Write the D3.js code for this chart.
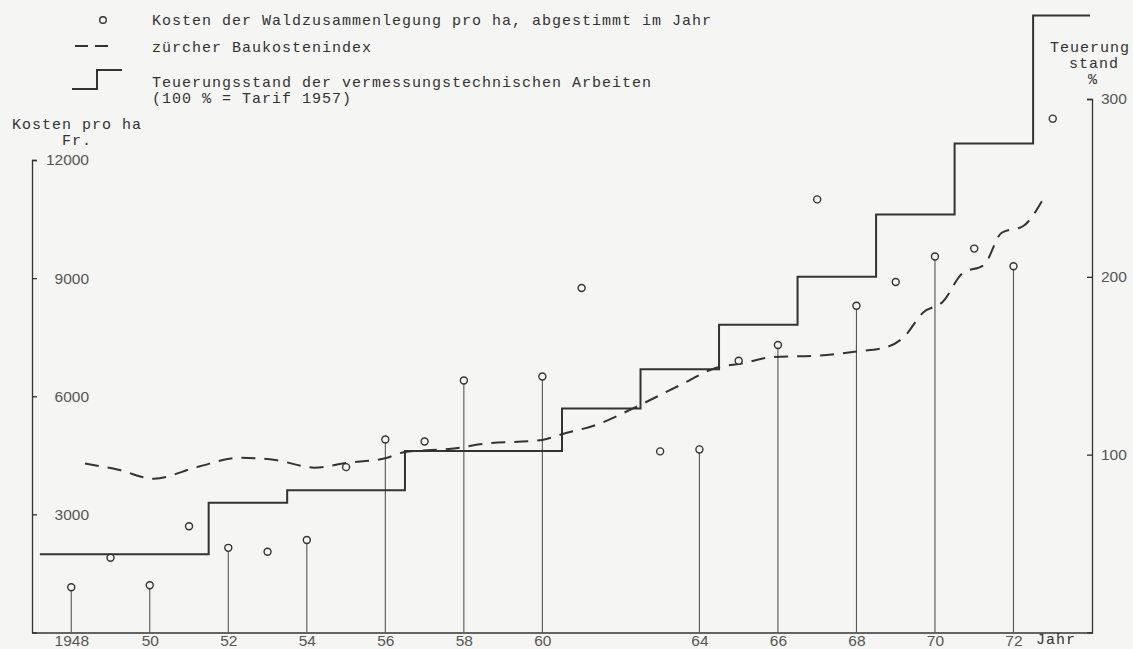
<!DOCTYPE html>
<html>
<head>
<meta charset="utf-8">
<script src="https://cdn.jsdelivr.net/npm/d3@7"></script>
<style>
  html, body { margin: 0; padding: 0; background: #f5f5f3; }
  svg { display: block; }
  .mono { font-family: "Liberation Mono", "DejaVu Sans Mono", monospace; font-size: 15px; letter-spacing: 1px; fill: #333; }
  .num text { font-family: "Liberation Sans", Arial, sans-serif; font-size: 15.5px; fill: #555; }
</style>
</head>
<body>
<div id="chart"></div>
<script>
// Kosten der Waldzusammenlegung pro ha (Fr.)
const costYears  = [1948, 1949, 1950, 1951, 1952, 1953, 1954, 1955, 1956, 1957, 1958, 1960, 1961,
                    1963, 1964, 1965, 1966, 1967, 1968, 1969, 1970, 1971, 1972, 1973];
const costValues = [1150, 1900, 1200, 2700, 2150, 2050, 2350, 4200, 4900, 4850, 6400, 6500, 8750,
                    4600, 4650, 6900, 7300, 11000, 8300, 8900, 9550, 9750, 9300, 13050];
const stemYears  = [1948, 1950, 1952, 1954, 1956, 1958, 1960, 1964, 1966, 1968, 1970, 1972];

// Teuerungsstand der vermessungstechnischen Arbeiten (%)
const tarifBreaks = [1947.2, 1951.5, 1953.5, 1956.5, 1960.5, 1962.5, 1964.5, 1966.5, 1968.5, 1970.5, 1972.5, 1973.95];
const tarifLevels = [44, 73, 80, 102, 126, 148, 173, 200, 235, 275, 347];

// zürcher Baukostenindex (%)
const bauYears = [1948.35, 1949.2, 1950.1, 1951.2, 1952.3, 1953.2, 1954.2, 1955.0, 1956.0, 1956.5,
                  1957.8, 1958.4, 1960.0, 1960.5, 1961.4, 1962.4, 1963.5, 1964.45, 1965.1, 1965.85,
                  1967.0, 1968.0, 1968.8, 1969.2, 1969.7, 1970.2, 1970.7, 1971.25, 1971.7, 1972.25, 1972.75];
const bauIndex = [95, 91.5, 86.5, 93, 98.3, 97, 92.7, 95.3, 98, 101.5,
                  103.6, 105.8, 108.3, 111.5, 117, 127, 139, 149, 151.4, 154.8,
                  155.7, 158, 160.7, 166, 180, 186, 202, 206.7, 224.8, 228.6, 243.6];

const xTickYears  = [1948, 1950, 1952, 1954, 1956, 1958, 1960, 1964, 1966, 1968, 1970, 1972];
const xTickLabels = ["1948", "50", "52", "54", "56", "58", "60", "64", "66", "68", "70", "72"];
const leftTicks  = [3000, 6000, 9000, 12000];
const rightTicks = [100, 200, 300];

const w = 1133;
const h = 649;
const ink = "#333";

const x = d3.scaleLinear().domain([1947, 1974]).range([32, 1092]);
const yCost = d3.scaleLinear().domain([0, 12000]).range([632.5, 160]);
const yPct = d3.scaleLinear().domain([0, 300]).range([632.5, 99]);

const svg = d3.select("#chart")
  .append("svg")
  .attr("width", w)
  .attr("height", h);

// axes
const leftAxis = svg.append("g")
  .attr("class", "num")
  .attr("transform", `translate(${x(1947)}, 0)`)
  .call(d3.axisRight(yCost).tickValues(leftTicks).tickSize(5).tickSizeOuter(5).tickFormat(d3.format("d")));
leftAxis.selectAll("text").attr("x", 57).attr("text-anchor", "end");

const rightAxis = svg.append("g")
  .attr("class", "num")
  .attr("transform", `translate(${x(1974)}, 0)`)
  .call(d3.axisLeft(yPct).tickValues(rightTicks).tickSize(5).tickSizeOuter(5));
rightAxis.selectAll("text").attr("x", 9).attr("text-anchor", "start");

svg.append("g")
  .attr("class", "num")
  .attr("transform", `translate(0, ${yCost(0)})`)
  .call(d3.axisBottom(x).tickValues(xTickYears).tickSize(0).tickSizeOuter(0).tickPadding(2)
    .tickFormat((d, i) => xTickLabels[i]));

svg.selectAll(".domain, .tick line").attr("stroke", ink).attr("stroke-width", 1.3);

// stems
svg.selectAll(".stem")
  .data(stemYears)
  .enter()
  .append("line")
  .attr("class", "stem")
  .attr("x1", d => x(d))
  .attr("x2", d => x(d))
  .attr("y1", yCost(0))
  .attr("y2", d => yCost(costValues[costYears.indexOf(d)]) + 3.5)
  .attr("stroke", "#555")
  .attr("stroke-width", 1.1);

// step line
const stepData = tarifLevels.map((v, i) => ({ x: tarifBreaks[i], v: v }));
stepData.push({ x: tarifBreaks[tarifBreaks.length - 1], v: tarifLevels[tarifLevels.length - 1] });
svg.append("path")
  .datum(stepData)
  .attr("fill", "none")
  .attr("stroke", ink)
  .attr("stroke-width", 2)
  .attr("d", d3.line().x(d => x(d.x)).y(d => yPct(d.v)).curve(d3.curveStepAfter));

// dashed index line
svg.append("path")
  .datum(bauYears.map((yr, i) => [yr, bauIndex[i]]))
  .attr("fill", "none")
  .attr("stroke", ink)
  .attr("stroke-width", 2)
  .attr("stroke-dasharray", "14,9")
  .attr("d", d3.line().x(d => x(d[0])).y(d => yPct(d[1])).curve(d3.curveMonotoneX));

// circles
svg.selectAll(".pt")
  .data(costYears)
  .enter()
  .append("circle")
  .attr("class", "pt")
  .attr("cx", d => x(d))
  .attr("cy", (d, i) => yCost(costValues[i]))
  .attr("r", 3.5)
  .attr("fill", "#f5f5f3")
  .attr("stroke", ink)
  .attr("stroke-width", 1.4);

// legend
svg.append("circle").attr("cx", 103).attr("cy", 20).attr("r", 3.3)
  .attr("fill", "none").attr("stroke", ink).attr("stroke-width", 1.4);
svg.append("line").attr("x1", 75).attr("x2", 108).attr("y1", 46).attr("y2", 46)
  .attr("stroke", ink).attr("stroke-width", 2).attr("stroke-dasharray", "13,7");
svg.append("path").attr("d", "M72,89H97V70H122")
  .attr("fill", "none").attr("stroke", ink).attr("stroke-width", 2);

const texts = [
  { t: "Kosten der Waldzusammenlegung pro ha, abgestimmt im Jahr", x: 152, y: 25, a: "start" },
  { t: "zürcher Baukostenindex", x: 152, y: 52, a: "start" },
  { t: "Teuerungsstand der vermessungstechnischen Arbeiten", x: 152, y: 87, a: "start" },
  { t: "(100 % = Tarif 1957)", x: 152, y: 103, a: "start" },
  { t: "Kosten pro ha", x: 77, y: 129, a: "middle" },
  { t: "Fr.", x: 77, y: 145, a: "middle" },
  { t: "Teuerung", x: 1090, y: 52, a: "middle" },
  { t: "stand", x: 1094, y: 68, a: "middle" },
  { t: "%", x: 1093, y: 84, a: "middle" },
  { t: "Jahr", x: 1036, y: 644, a: "start" }
];
svg.selectAll(".lbl")
  .data(texts)
  .enter()
  .append("text")
  .attr("class", "mono lbl")
  .attr("x", d => d.x)
  .attr("y", d => d.y)
  .attr("text-anchor", d => d.a)
  .text(d => d.t);
</script>
</body>
</html>
